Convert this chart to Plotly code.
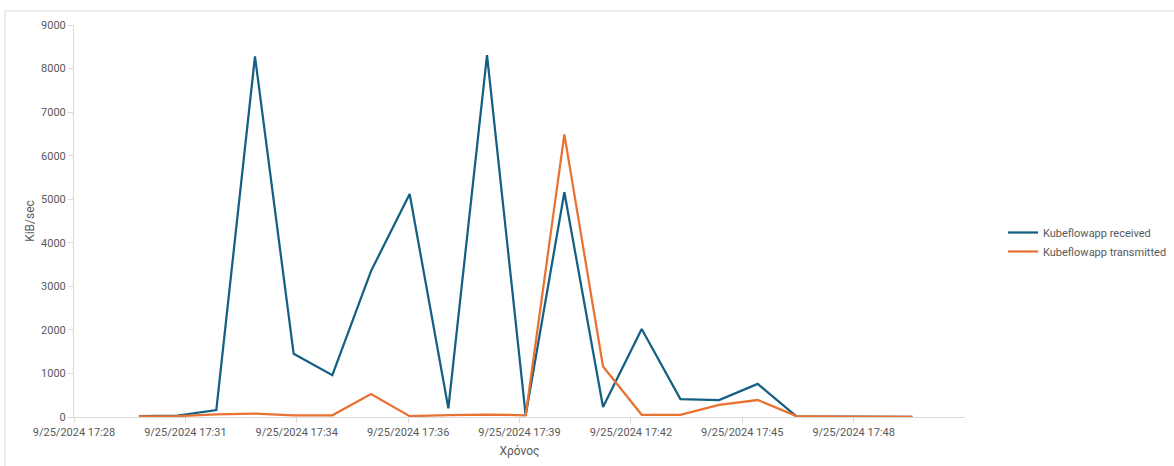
import plotly.graph_objects as go

# Per-minute network throughput samples for the Kubeflow app
times = [
    "2024-09-25 17:30:00", "2024-09-25 17:31:00", "2024-09-25 17:32:00",
    "2024-09-25 17:33:00", "2024-09-25 17:34:00", "2024-09-25 17:35:00",
    "2024-09-25 17:36:00", "2024-09-25 17:37:00", "2024-09-25 17:38:00",
    "2024-09-25 17:39:00", "2024-09-25 17:40:00", "2024-09-25 17:41:00",
    "2024-09-25 17:42:00", "2024-09-25 17:43:00", "2024-09-25 17:44:00",
    "2024-09-25 17:45:00", "2024-09-25 17:46:00", "2024-09-25 17:47:00",
    "2024-09-25 17:48:00", "2024-09-25 17:49:00", "2024-09-25 17:50:00",
]
received = [20, 30, 160, 8280, 1450, 960, 3350, 5120, 200, 8310, 40,
            5160, 230, 2020, 410, 390, 760, 15, 8, 5, 3]
transmitted = [15, 20, 60, 80, 40, 40, 530, 20, 45, 55, 40,
               6490, 1160, 50, 50, 280, 390, 20, 10, 5, 3]

# Date axis: major unit of 0.002 day (172.8 s)
tick_vals = [
    "2024-09-25 17:28:19.2", "2024-09-25 17:31:12", "2024-09-25 17:34:04.8",
    "2024-09-25 17:36:57.6", "2024-09-25 17:39:50.4", "2024-09-25 17:42:43.2",
    "2024-09-25 17:45:36", "2024-09-25 17:48:28.8",
]
tick_text = [
    "9/25/2024 17:28", "9/25/2024 17:31", "9/25/2024 17:34", "9/25/2024 17:36",
    "9/25/2024 17:39", "9/25/2024 17:42", "9/25/2024 17:45", "9/25/2024 17:48",
]
x_range = ["2024-09-25 17:28:19.2", "2024-09-25 17:51:21.6"]

FONT = "Roboto, Liberation Sans, sans-serif"
GREY = "#595959"
AXIS = "#d9d9d9"

fig = go.Figure()
fig.add_trace(go.Scatter(x=times, y=received, mode="lines",
                         name="Kubeflowapp received",
                         line=dict(color="#156082", width=2.25)))
fig.add_trace(go.Scatter(x=times, y=transmitted, mode="lines",
                         name="Kubeflowapp transmitted",
                         line=dict(color="#E97132", width=2.25)))

W, H = 1174, 466
L, R, T, B = 74, 209, 25, 49
pw, ph = W - L - R, H - T - B

def px_x(p):
    return (p - L) / pw

def px_y(p):
    return (H - B - p) / ph

fig.update_layout(
    width=W, height=H,
    margin=dict(l=L, r=R, t=T, b=B, autoexpand=False),
    paper_bgcolor="white", plot_bgcolor="white",
    font=dict(family=FONT, size=11, color=GREY),
    showlegend=True,
    legend=dict(x=px_x(1172), y=px_y(242), xanchor="right", yanchor="middle",
                font=dict(size=11, color=GREY), bgcolor="rgba(0,0,0,0)",
                tracegroupgap=4),
    xaxis=dict(
        type="date", range=x_range, tickmode="array",
        tickvals=tick_vals, ticktext=tick_text,
        showgrid=False, zeroline=False, automargin=False,
        showline=True, linecolor=AXIS, linewidth=1,
        ticks="outside", ticklen=5, tickcolor=AXIS,
        tickfont=dict(size=11, color=GREY),
        title=dict(text="Χρόνος", font=dict(size=12, color=GREY), standoff=8),
    ),
    yaxis=dict(
        range=[0, 9000], dtick=1000, tick0=0,
        showgrid=False, zeroline=False, automargin=False,
        showline=True, linecolor=AXIS, linewidth=1,
        ticks="outside", ticklen=5, tickcolor=AXIS,
        tickfont=dict(size=11, color=GREY),
        title=dict(text="KiB/sec", font=dict(size=12, color=GREY), standoff=3),
    ),
    shapes=[dict(type="rect", xref="paper", yref="paper",
                 x0=px_x(5), x1=px_x(1185), y0=px_y(480), y1=px_y(11),
                 line=dict(color=AXIS, width=1), fillcolor="rgba(0,0,0,0)",
                 layer="below")],
)

fig.write_html("out.html")
